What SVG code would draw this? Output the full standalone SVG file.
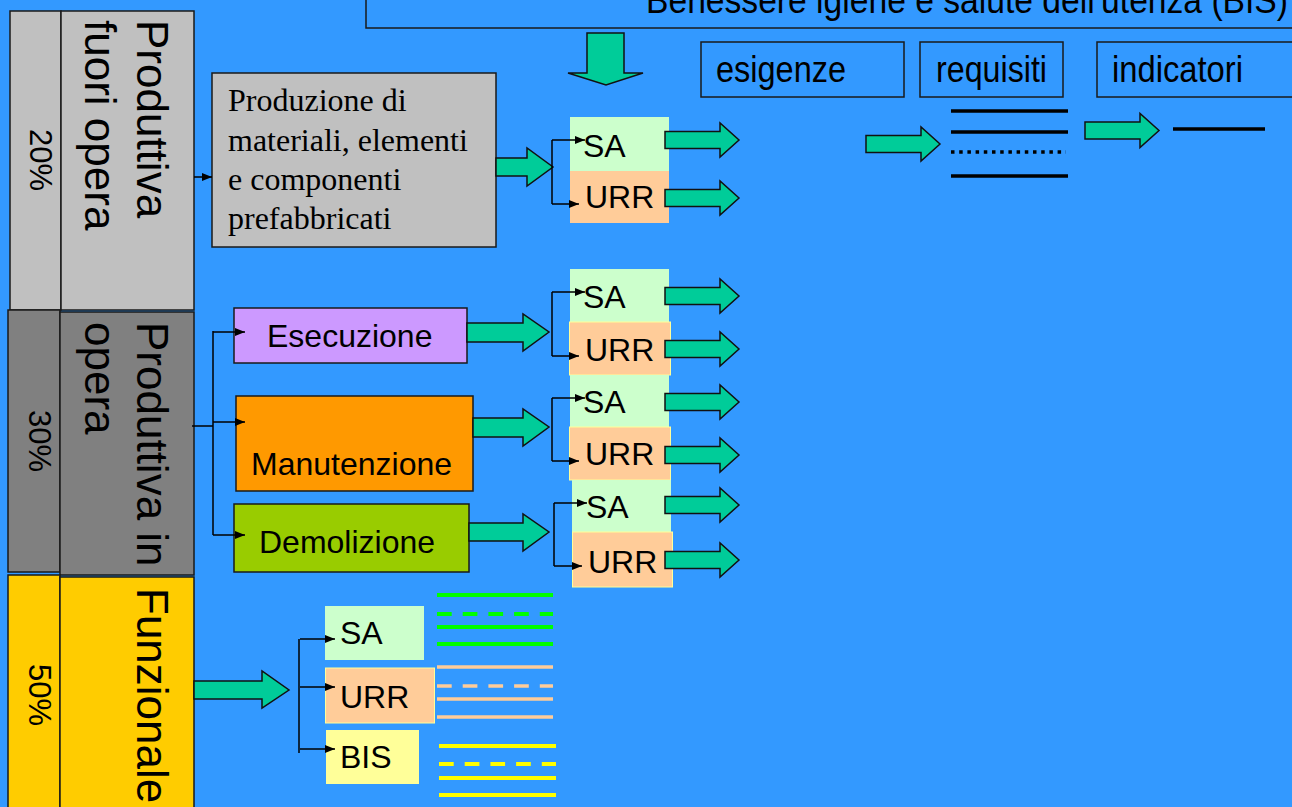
<svg xmlns="http://www.w3.org/2000/svg" width="1292" height="807" viewBox="0 0 1292 807">
<defs>
<style>
.box{stroke:#1a1a1a;stroke-width:1.5}
.arr{fill:#00CC99;stroke:#111;stroke-width:1.5;stroke-linejoin:miter}
.sans{font-family:"Liberation Sans",Arial,sans-serif;fill:#000}
.serif{font-family:"Liberation Serif","Times New Roman",serif;fill:#000;font-size:32px}
.lbl{font-size:32px}
.big{font-size:44px}
.pct{font-size:31px}
.top{font-size:37px}
.con{stroke:#000;stroke-width:1.5;fill:none}
.blk{stroke:#000;stroke-width:3.5}
</style>
<marker id="ah" viewBox="0 0 10 8" refX="10" refY="4" markerWidth="10" markerHeight="8" markerUnits="userSpaceOnUse" orient="auto">
<path d="M0,0 L10,4 L0,8 z" fill="#000"/>
</marker>
<path id="outArrow" d="M0,-8.5 H55 V-17 L74,0 L55,17 V8.5 H0 Z"/>
</defs>
<rect x="0" y="0" width="1292" height="807" fill="#3399FF"/>

<g id="header">
<rect x="366" y="-5" width="1000" height="33" fill="none" class="box"/>
<text class="sans top" x="646" y="13" textLength="642" lengthAdjust="spacingAndGlyphs">Benessere igiene  e salute dell'utenza (BIS)</text>
</g>
<g id="downArrow">
<path class="arr" d="M587,33 H624 V73 H643 L606,85 L568,73 H587 Z"/>
</g>
<g id="esigenze">
<rect x="701" y="42" width="203" height="55" fill="none" class="box"/>
<text class="sans top" x="716" y="82" textLength="130" lengthAdjust="spacingAndGlyphs">esigenze</text>
</g>
<g id="requisiti">
<rect x="920" y="42" width="143" height="55" fill="none" class="box"/>
<text class="sans top" x="936" y="82" textLength="111" lengthAdjust="spacingAndGlyphs">requisiti</text>
</g>
<g id="indicatori">
<rect x="1097" y="42" width="220" height="55" fill="none" class="box"/>
<text class="sans top" x="1112" y="82" textLength="131" lengthAdjust="spacingAndGlyphs">indicatori</text>
</g>
<g id="legend">
<use href="#outArrow" class="arr" transform="translate(866,144)"/>
<line class="blk" x1="951" y1="111" x2="1068" y2="111"/>
<line class="blk" x1="951" y1="132" x2="1068" y2="132"/>
<line class="blk" x1="951" y1="152" x2="1066" y2="152" stroke-dasharray="3.5 4.7"/>
<line class="blk" x1="951" y1="176" x2="1068" y2="176"/>
<use href="#outArrow" class="arr" transform="translate(1085,130.5)"/>
<line class="blk" x1="1173" y1="129" x2="1265" y2="129"/>
</g>

<g id="col-fuori">
<rect x="10" y="11" width="51" height="299" fill="#C0C0C0" class="box"/>
<rect x="61" y="11" width="133" height="299" fill="#C0C0C0" class="box"/>
<text class="sans pct" text-anchor="middle" transform="translate(30,160) rotate(90)">20%</text>
<text class="sans big" transform="translate(137,20) rotate(90)"><tspan x="0" y="0">Produttiva</tspan><tspan x="0" y="52">fuori opera</tspan></text>
</g>
<g id="col-in">
<rect x="8" y="310" width="52" height="262" fill="#808080" class="box"/>
<rect x="60" y="312" width="134" height="263" fill="#808080" class="box"/>
<text class="sans pct" text-anchor="middle" transform="translate(29,441) rotate(90)">30%</text>
<text class="sans big" transform="translate(137,322) rotate(90)"><tspan x="0" y="0">Produttiva in</tspan><tspan x="0" y="52">opera</tspan></text>
</g>
<g id="col-funz">
<rect x="8" y="575" width="52" height="240" fill="#FFCC00" class="box"/>
<rect x="60" y="577" width="134" height="240" fill="#FFCC00" class="box"/>
<text class="sans pct" text-anchor="middle" transform="translate(29,695) rotate(90)">50%</text>
<text class="sans big" transform="translate(137,588) rotate(90)">Funzionale</text>
</g>

<g id="produzione">
<rect x="212" y="73" width="284" height="174" fill="#C0C0C0" class="box"/>
<text class="serif"><tspan x="228" y="111">Produzione di</tspan><tspan x="228" y="151">materiali, elementi</tspan><tspan x="228" y="190">e componenti</tspan><tspan x="228" y="229">prefabbricati</tspan></text>
</g>
<g id="esecuzione">
<rect x="234" y="308" width="233" height="55" fill="#CC99FF" class="box"/>
<text class="sans lbl" x="267" y="347">Esecuzione</text>
</g>
<g id="manutenzione">
<rect x="236" y="396" width="237" height="95" fill="#FF9900" class="box"/>
<text class="sans lbl" x="251" y="475">Manutenzione</text>
</g>
<g id="demolizione">
<rect x="234" y="504" width="235" height="68" fill="#99CC00" class="box"/>
<text class="sans lbl" x="259" y="553">Demolizione</text>
</g>

<g id="sa1"><rect x="570" y="117" width="99" height="54" fill="#CCFFCC"/><text class="sans lbl" x="583" y="157">SA</text></g>
<g id="urr1"><rect x="570" y="171" width="99" height="52" fill="#FFCC99"/><text class="sans lbl" x="585" y="208">URR</text></g>
<g id="sa2"><rect x="570" y="269" width="99" height="53" fill="#CCFFCC"/><text class="sans lbl" x="583" y="308">SA</text></g>
<g id="urr2"><rect x="569.5" y="322" width="101" height="53" fill="#FFCC99" stroke="#FFFF99" stroke-width="1"/><text class="sans lbl" x="585" y="361">URR</text></g>
<g id="sa3"><rect x="570" y="375" width="99" height="52" fill="#CCFFCC"/><text class="sans lbl" x="583" y="413">SA</text></g>
<g id="urr3"><rect x="569.5" y="427" width="101" height="53" fill="#FFCC99" stroke="#FFFF99" stroke-width="1"/><text class="sans lbl" x="585" y="465">URR</text></g>
<g id="sa4"><rect x="572" y="480" width="99" height="52" fill="#CCFFCC"/><text class="sans lbl" x="586" y="518">SA</text></g>
<g id="urr4"><rect x="572.5" y="532" width="100" height="55" fill="#FFCC99" stroke="#FFFF99" stroke-width="1"/><text class="sans lbl" x="588" y="573">URR</text></g>

<g id="saF"><rect x="325" y="606" width="99" height="54" fill="#CCFFCC"/><text class="sans lbl" x="340" y="644">SA</text></g>
<g id="urrF"><rect x="325.5" y="668" width="109" height="55" fill="#FFCC99" stroke="#FFFF99" stroke-width="1"/><text class="sans lbl" x="340" y="708">URR</text></g>
<g id="bisF"><rect x="326" y="730" width="93" height="54" fill="#FFFF99"/><text class="sans lbl" x="340" y="768">BIS</text></g>

<g id="lines-funz">
<g stroke="#00FF00" stroke-width="4">
<line x1="437" y1="595" x2="553" y2="595"/>
<line x1="437" y1="614" x2="553" y2="614" stroke-dasharray="14.7 11"/>
<line x1="437" y1="627" x2="553" y2="627"/>
<line x1="437" y1="644" x2="553" y2="644"/>
</g>
<g stroke="#FFCC99" stroke-width="3.5">
<line x1="437" y1="667" x2="553" y2="667"/>
<line x1="437" y1="686" x2="553" y2="686" stroke-dasharray="14.7 11"/>
<line x1="437" y1="699" x2="553" y2="699"/>
<line x1="437" y1="717" x2="553" y2="717"/>
</g>
<g stroke="#FFFF00" stroke-width="4">
<line x1="439" y1="746" x2="556" y2="746"/>
<line x1="439" y1="764" x2="556" y2="764" stroke-dasharray="14.7 11"/>
<line x1="439" y1="778" x2="556" y2="778"/>
<line x1="439" y1="795" x2="556" y2="795"/>
</g>
</g>

<g id="connectors">
<path class="arr" d="M496,158 H527 V148 L553,167 L527,186 V176 H496 Z"/>
<path class="arr" d="M467,323 H523 V314 L549,332 L523,351 V342 H467 Z"/>
<path class="arr" d="M473,418 H523 V409 L549,427 L523,446 V437 H473 Z"/>
<path class="arr" d="M469,523 H523 V514 L549,532 L523,551 V541 H469 Z"/>
<path class="arr" d="M194,681 H262 V671 L289,690 L262,708 V699 H194 Z"/>

<use href="#outArrow" class="arr" transform="translate(665,140)"/>
<use href="#outArrow" class="arr" transform="translate(665,198)"/>
<use href="#outArrow" class="arr" transform="translate(665,296)"/>
<use href="#outArrow" class="arr" transform="translate(665,349)"/>
<use href="#outArrow" class="arr" transform="translate(665,402)"/>
<use href="#outArrow" class="arr" transform="translate(665,455)"/>
<use href="#outArrow" class="arr" transform="translate(665,505)"/>
<use href="#outArrow" class="arr" transform="translate(665,560)"/>

<line class="con" x1="194" y1="177" x2="212" y2="177" marker-end="url(#ah)"/>

<line class="con" x1="552" y1="140" x2="552" y2="204"/>
<line class="con" x1="552" y1="140" x2="585" y2="140" marker-end="url(#ah)"/>
<line class="con" x1="552" y1="204" x2="579" y2="204" marker-end="url(#ah)"/>

<line class="con" x1="552" y1="292" x2="552" y2="356"/>
<line class="con" x1="552" y1="292" x2="585" y2="292" marker-end="url(#ah)"/>
<line class="con" x1="552" y1="356" x2="579" y2="356" marker-end="url(#ah)"/>

<line class="con" x1="552" y1="398" x2="552" y2="461"/>
<line class="con" x1="552" y1="398" x2="585" y2="398" marker-end="url(#ah)"/>
<line class="con" x1="552" y1="461" x2="579" y2="461" marker-end="url(#ah)"/>

<line class="con" x1="554" y1="503" x2="554" y2="566"/>
<line class="con" x1="554" y1="503" x2="587" y2="503" marker-end="url(#ah)"/>
<line class="con" x1="554" y1="566" x2="582" y2="566" marker-end="url(#ah)"/>

<line class="con" x1="192" y1="426" x2="213" y2="426"/>
<line class="con" x1="213" y1="331" x2="213" y2="535"/>
<line class="con" x1="213" y1="332" x2="245" y2="332" marker-end="url(#ah)"/>
<line class="con" x1="213" y1="422" x2="245" y2="422" marker-end="url(#ah)"/>
<line class="con" x1="213" y1="535" x2="245" y2="535" marker-end="url(#ah)"/>

<line class="con" x1="299" y1="639" x2="299" y2="753"/>
<line class="con" x1="300" y1="639" x2="335" y2="639" marker-end="url(#ah)"/>
<line class="con" x1="300" y1="687" x2="335" y2="687" marker-end="url(#ah)"/>
<line class="con" x1="300" y1="749" x2="335" y2="749" marker-end="url(#ah)"/>
</g>
</svg>
